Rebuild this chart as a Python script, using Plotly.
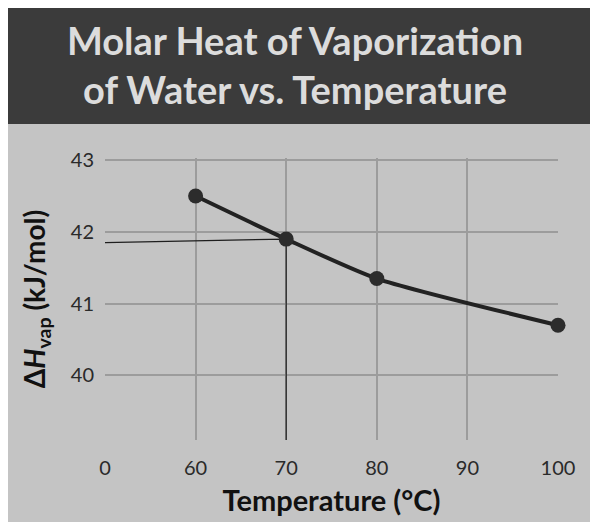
import plotly.graph_objects as go

# ---- data ----
temps = [60, 70, 80, 100]
dh_vap = [42.5, 41.9, 41.35, 40.7]
read_x = [50, 70, 70]
read_y = [41.85, 41.9, 39.1]
x_tickvals = [50, 60, 70, 80, 90, 100]
x_ticktext = ["0", "60", "70", "80", "90", "100"]
y_tickvals = [40, 41, 42, 43]
y_ticktext = ["40", "41", "42", "43"]

OFF = 8  # page body margin
W, H = 600, 521
L, R, T, B = 105 - OFF, 558 - OFF, 158 - OFF, 440 - OFF

def px(x):
    return (x - OFF - L) / (R - L)

def py(y):
    return (B - (y - OFF)) / (B - T)

fig = go.Figure()
fig.add_trace(go.Scatter(x=read_x, y=read_y, mode="lines",
                         line=dict(color="#1e1e1e", width=1.2),
                         hoverinfo="skip", showlegend=False))
fig.add_trace(go.Scatter(x=temps, y=dh_vap, mode="lines+markers",
                         line=dict(color="#222222", width=4, shape="spline", smoothing=0.6),
                         marker=dict(color="#2c2c2c", size=15),
                         cliponaxis=False, showlegend=False))

shapes = [
    dict(type="rect", xref="paper", yref="paper", x0=px(8), x1=px(590), y0=py(522), y1=py(8),
         fillcolor="#c4c4c4", line=dict(width=0), layer="below"),
    dict(type="rect", xref="paper", yref="paper", x0=px(8), x1=px(590), y0=py(124), y1=py(8),
         fillcolor="#3b3b3b", line=dict(width=0), layer="below"),
]

fig.update_layout(
    width=W, height=H,
    margin=dict(l=L, r=W - R, t=T, b=H - B),
    paper_bgcolor="white",
    plot_bgcolor="#c4c4c4",
    shapes=shapes,
    title=dict(text="Molar Heat of Vaporization<br>of Water vs. Temperature",
               x=(295 - OFF) / W, xanchor="center", y=1 - (55 - OFF) / H, yanchor="middle",
               font=dict(family="Lato", size=38, color="#dcdcdc", weight="bold")),
    xaxis=dict(range=[50, 100], tickvals=x_tickvals, ticktext=x_ticktext,
               showgrid=True, gridcolor="#9c9c9c", gridwidth=1.5,
               zeroline=False, showline=False, ticks="",
               ticklabelstandoff=14,
               tickfont=dict(family="Lato", size=20, color="#2a2a2a"),
               title=dict(text="<b>Temperature (°C)</b>", standoff=12,
                          font=dict(family="Lato", size=29, color="#111111"))),
    yaxis=dict(range=[39.1, 43.03], tickvals=y_tickvals, ticktext=y_ticktext,
               showgrid=True, gridcolor="#9c9c9c", gridwidth=1.5,
               zeroline=False, showline=False, ticks="",
               ticklabelstandoff=10,
               tickfont=dict(family="Lato", size=20, color="#2a2a2a"),
               title=dict(text="<b>Δ<i>H</i><sub>vap</sub> (kJ/mol)</b>", standoff=16,
                          font=dict(family="Lato", size=28, color="#111111"))),
)

fig.write_html("out.html")
